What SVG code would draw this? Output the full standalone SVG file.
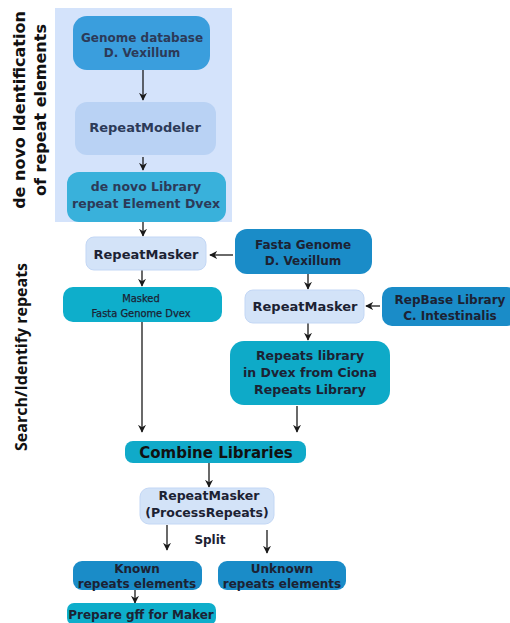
<svg xmlns="http://www.w3.org/2000/svg" width="510" height="623" viewBox="0 0 510 623">
<style>
.t{font-family:"DejaVu Sans",Verdana,sans-serif;font-weight:bold;fill:#1c2233;text-anchor:middle}
.up{fill:#2c3a58}
.n{font-family:"DejaVu Sans Condensed","DejaVu Sans",sans-serif;font-weight:normal;font-size:11px;fill:#1c2233;stroke:#1c2233;stroke-width:0.25;text-anchor:middle}
.c{stroke:#1a1a1a;stroke-width:1.3;fill:none;marker-end:url(#ah)}
.rm{fill:#d3e3f8;stroke:#c3d7f5;stroke-width:1}
.side{font-family:"DejaVu Sans",sans-serif;font-weight:bold;font-size:16px;fill:#111;text-anchor:middle}
</style>
<defs>
<marker id="ah" viewBox="0 0 10 10" refX="9" refY="5" markerWidth="8" markerHeight="8" orient="auto" markerUnits="userSpaceOnUse">
<path d="M0,0 L10,5 L0,10 L3,5 Z" fill="#1a1a1a"/>
</marker>
</defs>
<rect width="510" height="623" fill="#fff"/>
<rect x="55" y="8" width="177" height="214" fill="#d4e3fb"/>
<text class="side" transform="translate(25,110) rotate(-90)">de novo Identification</text>
<text class="side" transform="translate(46,110) rotate(-90)">of repeat elements</text>
<text transform="translate(27,357) rotate(-90)" style="font-family:'Open Sans',sans-serif;font-weight:bold;font-size:16px;fill:#111;text-anchor:middle">Search/Identify repeats</text>

<g id="connectors">
<path class="c" d="M143,70 V100"/>
<path class="c" d="M143,157 V170"/>
<path class="c" d="M143,222 V236"/>
<path class="c" d="M233,255 H210"/>
<path class="c" d="M142,270 V286"/>
<path class="c" d="M308,274 V289"/>
<path class="c" d="M380,306 H366"/>
<path class="c" d="M308,323 V340"/>
<path class="c" d="M142,322 V432"/>
<path class="c" d="M297,406 V432"/>
<path class="c" d="M209,463 V487"/>
<path class="c" d="M167,525 V550"/>
<path class="c" d="M267,530 V553"/>
<path class="c" d="M135,590 V603"/>
</g>

<g id="genome-db">
<rect x="73" y="16" width="137" height="54" rx="14" fill="#3a9edd"/>
<text class="t up" x="142" y="42" font-size="12">Genome database</text>
<text class="t up" x="142" y="57" font-size="12">D. Vexillum</text>
</g>
<g id="repeatmodeler">
<rect x="75" y="102" width="141" height="53" rx="12" fill="#b9d2f4"/>
<text class="t up" x="145" y="132" font-size="13">RepeatModeler</text>
</g>
<g id="denovo-lib">
<rect x="67" y="172" width="159" height="50" rx="12" fill="#39b1db"/>
<text class="t up" x="146" y="191" font-size="12.5">de novo Library</text>
<text class="t up" x="146" y="208" font-size="12.5">repeat Element Dvex</text>
</g>
<g id="repeatmasker1">
<rect class="rm" x="86" y="237" width="120" height="33" rx="8"/>
<text class="t" x="146" y="259" font-size="13">RepeatMasker</text>
</g>
<g id="fasta-genome">
<rect x="235" y="229" width="137" height="45" rx="12" fill="#1a8cc8"/>
<text class="t" x="303" y="249" font-size="12">Fasta Genome</text>
<text class="t" x="303" y="265" font-size="12">D. Vexillum</text>
</g>
<g id="masked">
<rect x="63" y="287" width="159" height="35" rx="10" fill="#0eaecb"/>
<text class="n" x="141" y="302">Masked</text>
<text class="n" x="141" y="317">Fasta Genome Dvex</text>
</g>
<g id="repeatmasker2">
<rect class="rm" x="245" y="290" width="119" height="33" rx="8"/>
<text class="t" x="305" y="311" font-size="13">RepeatMasker</text>
</g>
<g id="repbase">
<rect x="382" y="287" width="135" height="39" rx="10" fill="#1a8cc8"/>
<text class="t" x="450" y="304" font-size="12">RepBase Library</text>
<text class="t" x="450" y="320" font-size="12">C. Intestinalis</text>
</g>
<g id="repeats-library">
<rect x="230" y="341" width="160" height="64" rx="14" fill="#0eaac8"/>
<text class="t" x="310" y="360" font-size="12.5">Repeats library</text>
<text class="t" x="310" y="377" font-size="12.5">in Dvex from Ciona</text>
<text class="t" x="310" y="394" font-size="12.5">Repeats Library</text>
</g>
<g id="combine">
<rect x="125" y="441" width="181" height="22" rx="8" fill="#10aac9"/>
<text class="t" x="216" y="458" font-size="15" style="fill:#111">Combine Libraries</text>
</g>
<g id="processrepeats">
<rect class="rm" x="140" y="488" width="134" height="36" rx="9"/>
<text class="t" x="209" y="500" font-size="12.5">RepeatMasker</text>
<text class="t" x="207" y="517" font-size="12.5">(ProcessRepeats)</text>
</g>
<text class="t" x="210" y="544" font-size="12">Split</text>
<g id="known">
<rect x="73" y="561" width="129" height="29" rx="9" fill="#1a8cc8"/>
<text class="t" x="137" y="573" font-size="12">Known</text>
<text class="t" x="137" y="588" font-size="12">repeats elements</text>
</g>
<g id="unknown">
<rect x="218" y="561" width="128" height="29" rx="9" fill="#1a8cc8"/>
<text class="t" x="282" y="573" font-size="12">Unknown</text>
<text class="t" x="282" y="588" font-size="12">repeats elements</text>
</g>
<g id="prepare-gff">
<rect x="67" y="603" width="149" height="22" rx="7" fill="#0eaecb"/>
<text class="t" x="141" y="619" font-size="12">Prepare gff for Maker</text>
</g>
</svg>
